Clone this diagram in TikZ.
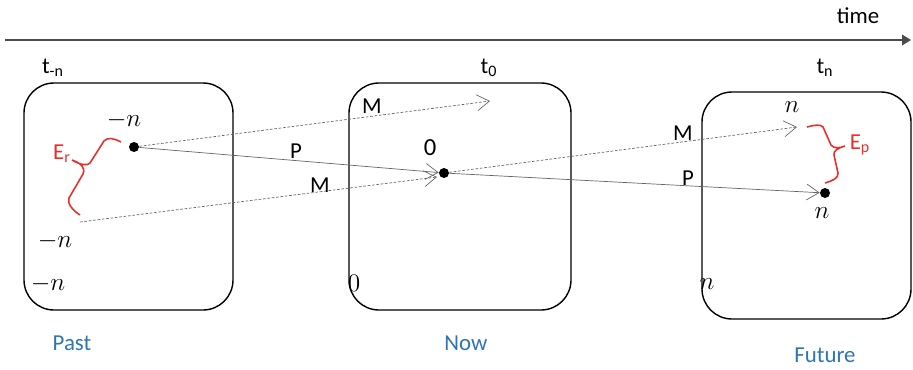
\documentclass[tikz,border=0pt]{standalone}
\usepackage{fontspec}
\setmainfont{Carlito}
\usetikzlibrary{arrows.meta}
\definecolor{stateblue}{RGB}{46,117,182}
\definecolor{errred}{RGB}{232,48,40}
\begin{document}
\begin{tikzpicture}[x=0.02cm, y=-0.02cm,
    every node/.style={font=\fontsize{13}{15}\selectfont, inner sep=1pt},
    frame/.style={draw, line width=0.8pt, rounded corners=0.6cm},
    dot/.style={circle, fill, inner sep=0pt, minimum size=0.2cm},
    mathlbl/.style={font=\fontsize{14}{16}\selectfont},
    pline/.style={draw=black!60, line width=0.4pt, -{Straight Barb[length=7pt,width=9pt]}},
    mline/.style={pline, dash pattern=on 1.5pt off 1pt},
    errbrace/.style={draw=errred, line width=0.9pt}]
    \useasboundingbox (0,0) rectangle (913,369);
    % Zeitachse
    \draw[black!70, line width=0.6pt, -{Triangle[length=5pt,width=6pt]}] (5,40) -- (911,40);
    \node (time) at (858,16) {time};
    % Zustaende
    \draw[frame] (24,83) rectangle (233,310);
    \draw[frame] (349,83) rectangle (571,310);
    \draw[frame] (702,92) rectangle (911,319);
    \node (tpast) at (53,68) {t\textsubscript{-n}};
    \node (tnow) at (489,68) {t\textsubscript{0}};
    \node (tfut) at (825,68) {t\textsubscript{n}};
    \node[stateblue] (past) at (72,343) {Past};
    \node[stateblue] (now) at (466,343) {Now};
    \node[stateblue] (future) at (825,355) {Future};
    % Punkte
    \node[dot] (p0) at (134,147) {};
    \node[dot] (p1) at (444,173) {};
    \node[dot] (p2) at (825,193) {};
    \coordinate (m0) at (80,222);
    \coordinate (m1) at (490,101);
    \coordinate (m2) at (437,177);
    \coordinate (m3) at (797,127);
    % Pfeile P und M
    \draw[pline] (p0) -- (p1);
    \draw[pline] (p1) -- (p2);
    \draw[mline] (p0) -- (m1);
    \draw[mline] (m0) -- (m2);
    \draw[mline] (p1) -- (m3);
    \node (pa) at (296,151) {P};
    \node (ma) at (320,185) {M};
    \node (mb) at (372,106) {M};
    \node (mc) at (683,133) {M};
    \node (pb) at (688,178) {P};
    % Indizes
    \node[mathlbl] (n1) at (124,120) {$-n$};
    \node[mathlbl] (n2) at (55,241) {$-n$};
    \node[mathlbl] (n3) at (48,284) {$-n$};
    \node[mathlbl] (z1) at (430,148) {0};
    \node[mathlbl] (z2) at (354,283) {$0$};
    \node[mathlbl] (n4) at (707,284) {$n$};
    \node[mathlbl] (n5) at (792,107) {$n$};
    \node[mathlbl] (n6) at (822,213) {$n$};
    % Fehler
    \draw[errbrace] (121,142) .. controls (113,138) and (108,137) .. (104,141) -- (90,163)
        .. controls (88,166) and (80,165) .. (72,160)
        .. controls (80,163) and (86,167) .. (83,174) -- (69,198)
        .. controls (67,203) and (72,210) .. (80,215);
    \draw[errbrace] (807,127) .. controls (815,125) and (820,124) .. (823,127) -- (831,145)
        .. controls (834,149) and (840,148) .. (845,146)
        .. controls (838,148) and (833,151) .. (834,155) -- (838,173)
        .. controls (839,178) and (832,181) .. (825,183);
    \node[errred] (er) at (62,154) {E\textsubscript{r}};
    \node[errred] (ep) at (860,145) {E\textsubscript{p}};
\end{tikzpicture}
\end{document}
